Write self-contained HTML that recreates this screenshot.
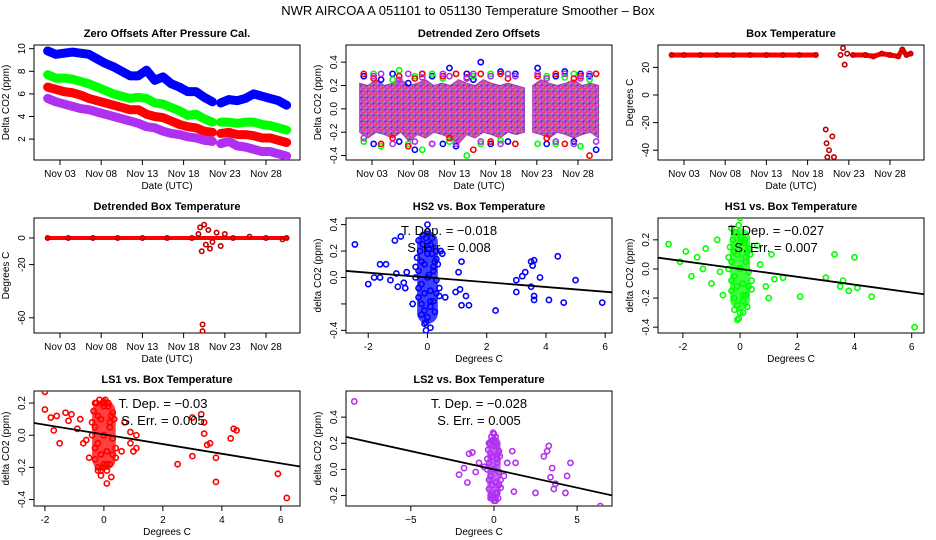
<!DOCTYPE html>
<html><head><meta charset="utf-8"><style>
html,body{margin:0;padding:0;background:#fff;}
svg{display:block;font-family:"Liberation Sans",sans-serif;}
</style></head><body>
<svg id="c" width="936" height="540" viewBox="0 0 936 540">
<text x="468" y="15" font-size="13" text-anchor="middle">NWR   AIRCOA A   051101 to 051130   Temperature Smoother – Box</text>
</svg>
<script>
// ---------- data ----------
const day1=[1.5,2.5,3.5,4.5,5.5,6.5,7.5,8.5,9.5,10.5,11.5,12.5,13.5,14.5,15.5,16.5,17.5,18.5,19.5,20.5,21.5];
const day2=[22.5,23.5,24.5,25.5,26.5,27.5,28.5,29.5,30.5];
const blue1=[9.8,9.5,9.6,9.7,9.6,9.5,9.1,8.7,8.4,8.0,7.6,7.6,8.1,7.2,7.5,6.9,6.6,6.2,6.2,5.7,5.3];
const blue2=[5.2,5.5,5.4,5.6,6.0,5.8,5.6,5.4,5.0];
const green1=[7.7,7.4,7.4,7.3,7.1,6.9,6.6,6.3,6.0,5.8,5.6,5.7,5.6,5.2,5.1,4.8,4.5,4.1,4.2,3.8,3.5];
const green2=[3.5,3.5,3.4,3.5,3.5,3.3,3.2,3.0,2.8];
const red1=[6.6,6.4,6.2,6.1,5.9,5.6,5.4,5.2,5.0,4.8,4.6,4.6,4.2,4.0,3.9,3.6,3.3,3.1,3.0,2.7,2.6];
const red2=[2.5,2.6,2.4,2.4,2.3,2.1,2.1,1.9,1.7];
const purple1=[5.6,5.3,5.1,4.9,4.7,4.6,4.4,4.2,4.0,3.8,3.6,3.4,3.1,3.0,2.7,2.5,2.4,2.2,2.1,1.9,1.8];
const purple2=[1.6,1.8,1.4,1.3,1.1,0.9,0.9,0.7,0.5];
// detrended band
const bandLo1=[-0.2,-0.25,-0.2,-0.22,-0.25,-0.2,-0.28,-0.22,-0.25,-0.2,-0.22,-0.25,-0.3,-0.22,-0.25,-0.2,-0.22,-0.25,-0.2,-0.22,-0.2];
const bandHi1=[0.22,0.2,0.25,0.2,0.22,0.25,0.2,0.22,0.25,0.2,0.22,0.2,0.25,0.22,0.2,0.25,0.22,0.2,0.22,0.2,0.18];
const bandLo2=[-0.2,-0.22,-0.25,-0.2,-0.22,-0.25,-0.22,-0.2,-0.25];
const bandHi2=[0.2,0.25,0.22,0.2,0.22,0.25,0.2,0.22,0.2];
const detDays=[2,3.2,4.1,5.5,6.3,7.4,8.2,9.1,10.3,11.6,12.4,13.2,14.5,15.3,16.2,17.4,18.6,19.5,20.4,23.1,24.2,25.3,26.4,27.5,28.3,29.4,30.2];
const detBlue=[0.28,-0.3,0.25,0.3,-0.28,0.22,-0.35,0.3,0.28,-0.3,0.35,-0.32,0.3,0.25,0.4,-0.3,0.32,-0.28,0.3,0.35,-0.3,0.28,0.32,-0.28,0.3,0.28,-0.35];
const detGreen=[-0.28,0.3,-0.32,0.25,0.33,-0.3,0.28,-0.35,0.3,0.26,-0.28,0.3,-0.4,0.28,-0.3,0.3,-0.27,0.3,-0.3,-0.3,0.28,-0.3,0.27,0.3,-0.32,0.25,0.3];
const detRed=[0.3,0.26,-0.3,-0.25,0.28,-0.32,0.26,0.3,-0.3,0.28,-0.25,0.3,0.27,-0.35,0.3,-0.28,0.3,0.26,-0.3,0.28,-0.25,0.3,-0.3,0.26,0.28,-0.4,0.3];
const detPurple=[-0.25,0.28,0.3,-0.3,0.25,0.3,-0.28,0.27,-0.3,0.3,0.28,-0.3,0.26,0.3,-0.28,0.28,-0.3,0.3,0.28,0.3,0.26,-0.28,0.3,-0.3,0.26,0.3,-0.28];
// box temperature
const boxDays=[1.5,3,5,7,9,11,13,15,17,19,20.2,20.3,20.4,20.5,20.6,21,21.2,21.4,22,22.3,22.5,22.8,23.5,25,26,27,28,29,29.5,30,30.5];
const boxTemp=[29,29,29,29,29,29,29,29,29,29,-25,-35,-45,-50,-40,-30,-45,-50,29,34,22,30,29,29,28,30,29,28,33,29,30];
// detrended box temperature
const dbDays=[1.5,4,7,10,13,16,19,19.8,20.0,20.2,20.3,20.3,20.5,20.7,21.0,21.2,21.5,22,22.5,23,24,26,28,30,30.5];
const dbTemp=[0,0,0,0,0,0,0,3,8,-10,-65,-70,10,-5,6,-8,-3,4,-6,3,0,1,0,-1,0];
// HS2 scatter
const hs2X=[-0.4,-0.3,-0.2,-0.1,0,0.1,0.2,0.3,0.4,-0.35,-0.25,-0.15,-0.05,0.05,0.15,0.25,0.35,-0.3,-0.2,-0.1,0,0.1,0.2,0.3,-0.4,-0.3,-0.2,-0.1,0,0.1,0.2,0.3,0.4,-0.3,-0.15,0,0.15,0.3,-0.2,-0.05,0.1,0.25,-0.1,0,0.1,-0.05,0.05,-2.45,-2,-1.8,-1.6,-1.6,-1.4,-1.25,-1.1,-1.05,-1,-0.9,-0.8,-0.75,-0.7,1.05,1.15,1.1,1.15,0.95,1.3,1.4,2.3,3,3,3.2,3.3,3.5,3.55,3.6,3.5,3.6,3.6,3.8,4.1,4.4,4.6,5,5.9,0.5,0.6,-0.5,0.45];
const hs2Y=[0,0.05,-0.05,0.1,0,-0.1,0.05,-0.02,-0.08,0.15,0.2,0.25,0.3,0.22,0.18,0.12,0.1,-0.15,-0.2,-0.25,-0.3,-0.22,-0.18,-0.12,0.08,-0.08,0.12,-0.12,0.18,-0.18,0.08,0.14,-0.14,0.28,0.32,0.4,0.3,0.2,-0.28,-0.34,-0.38,-0.26,-0.35,0.35,0.25,-0.4,0.02,0.25,-0.05,0,0.1,0,0.1,-0.02,0.28,0.03,-0.07,0.31,-0.04,-0.08,0.04,0.04,0.12,-0.09,-0.21,-0.11,-0.14,-0.21,-0.25,-0.02,-0.11,0.01,0.04,0.12,0.09,0.13,-0.07,-0.14,-0.17,0,-0.17,0.16,-0.19,-0.02,-0.19,0.18,-0.15,-0.2,0.2];
// HS1 scatter
const hs1X=[-0.4,-0.3,-0.2,-0.1,0,0.1,0.2,0.3,0.4,-0.35,-0.25,-0.15,-0.05,0.05,0.15,0.25,0.35,-0.3,-0.2,-0.1,0,0.1,0.2,0.3,-0.4,-0.3,-0.2,-0.1,0,0.1,0.2,0.3,0.4,-0.3,-0.15,0,0.15,-0.2,-0.05,0.1,0.25,-0.1,0,-2.5,-2.1,-1.9,-1.7,-1.5,-1.3,-1.2,-1.0,-0.8,-0.7,0.7,0.9,1.1,1.2,1.0,1.5,2.1,3.0,3.3,3.5,3.6,3.8,4.0,4.1,4.6,6.1,0.6,-0.6];
const hs1Y=[0,0.05,-0.05,0.1,0,-0.1,0.05,-0.02,-0.08,0.15,0.2,0.25,0.3,0.22,0.18,0.12,0.1,-0.15,-0.2,-0.25,-0.3,-0.22,-0.18,-0.12,0.08,-0.08,0.12,-0.12,0.18,-0.18,0.08,0.14,-0.14,0.28,0.25,0.22,0.2,-0.28,-0.34,-0.3,-0.26,-0.35,0.35,0.17,0.05,0.12,-0.05,0.08,0.0,0.14,-0.1,0.2,-0.02,0.03,-0.12,0.1,-0.07,-0.2,-0.06,-0.19,-0.06,0.1,-0.12,-0.08,-0.15,0.08,-0.13,-0.19,-0.4,0.16,-0.18];
// LS1 scatter
const ls1X=[-0.4,-0.3,-0.2,-0.1,0,0.1,0.2,0.3,0.4,-0.35,-0.25,-0.15,-0.05,0.05,0.15,0.25,0.35,-0.3,-0.2,-0.1,0,0.1,0.2,0.3,-0.4,-0.3,-0.2,-0.1,0,0.1,0.2,0.3,0.4,-0.3,-0.15,0,0.15,-0.2,-0.05,0.1,0.25,-0.1,0,-2,-2,-1.8,-1.7,-1.6,-1.5,-1.3,-1.2,-1.1,-0.9,-0.8,-0.7,-0.6,0.6,0.9,0.9,1.1,1.1,1.0,2.5,3.0,3.0,3.3,3.4,3.4,3.5,3.6,3.8,3.8,4.3,4.4,4.5,5.9,6.2,0.7,-0.5];
const ls1Y=[0,0.05,-0.05,0.1,0,-0.1,0.05,-0.02,-0.08,0.15,0.2,0.22,0.2,0.22,0.18,0.12,0.1,-0.15,-0.2,-0.22,-0.18,-0.22,-0.18,-0.12,0.08,-0.08,0.12,-0.12,0.18,-0.18,0.08,0.14,-0.14,0.2,0.22,0.2,0.2,-0.22,-0.2,-0.3,-0.26,-0.25,0.21,0.27,0.16,0.11,0.03,0.12,-0.05,0.14,0.09,0.13,0.04,0.1,-0.05,-0.03,-0.1,0.02,-0.05,0,-0.08,-0.1,-0.18,0.11,-0.13,0.13,0.08,0.01,-0.06,-0.05,-0.14,-0.29,-0.02,0.04,0.03,-0.24,-0.39,0.08,-0.14];
// LS2 scatter
const ls2X=[-0.4,-0.3,-0.2,-0.1,0,0.1,0.2,0.3,0.4,-0.35,-0.25,-0.15,-0.05,0.05,0.15,0.25,0.35,-0.3,-0.2,-0.1,0,0.1,0.2,0.3,-0.4,-0.3,-0.2,-0.1,0,0.1,0.2,0.3,0.4,-0.3,-0.15,0,0.15,-0.2,-0.05,0.1,0.25,-0.1,0.1,-8.4,-2.1,-1.8,-1.6,-1.5,-1.3,-1.1,-0.9,0.8,1.1,1.2,1.3,2.5,3.0,3.2,3.3,3.4,3.5,3.6,3.7,4.3,4.4,4.6,6.4,0.6,-0.6];
const ls2Y=[0,0.05,-0.05,0.1,0,-0.1,0.05,-0.02,-0.08,0.15,0.2,0.25,0.28,0.22,0.18,0.12,0.1,-0.15,-0.2,-0.22,-0.24,-0.22,-0.18,-0.12,0.08,-0.08,0.12,-0.12,0.18,-0.18,0.08,0.14,-0.14,0.2,0.22,0.27,0.2,-0.22,-0.2,-0.24,-0.22,-0.2,0.25,0.52,-0.04,0.01,-0.1,0.12,0.13,-0.02,0.05,0.05,0.14,-0.17,0.05,-0.18,0.1,0.14,0.18,-0.06,0.01,-0.15,-0.11,-0.18,-0.05,0.05,-0.28,-0.05,0.02];
const fits=[{s:-0.018,b:0.0},{s:-0.027,b:0.0},{s:-0.03,b:0.005},{s:-0.028,b:0.0}];
// dense cluster extents (x half-width, y low, y high) per scatter panel
const coreHS2=[0.35,-0.35,0.35];
const coreHS1=[0.35,-0.28,0.28];
const coreLS1=[0.4,-0.22,0.22];
const coreLS2=[0.4,-0.22,0.25];

// ---------- drawing ----------
const svg=document.getElementById('c');
const NS='http://www.w3.org/2000/svg';
function mk(tag,attrs,parent){const e=document.createElementNS(NS,tag);for(const k in attrs)e.setAttribute(k,attrs[k]);(parent||svg).appendChild(e);return e;}
function txt(s,attrs,parent){const e=mk('text',attrs,parent);e.textContent=s;return e;}

const defs=mk('defs',{});
const pat=mk('pattern',{id:'hatch',width:6,height:6,patternUnits:'userSpaceOnUse'},defs);
mk('circle',{cx:3,cy:3,r:2,fill:'none',stroke:'#ff2020','stroke-width':0.8},pat);
mk('circle',{cx:0,cy:0,r:2,fill:'none',stroke:'#2020ff','stroke-width':0.8},pat);
mk('circle',{cx:6,cy:0,r:2,fill:'none',stroke:'#20c020','stroke-width':0.8},pat);

function panel(o){
  const g=mk('g',{});
  
  
  const sx=v=>o.L+(v-o.x0)/(o.x1-o.x0)*(o.R-o.L);
  const sy=v=>o.B-(v-o.y0)/(o.y1-o.y0)*(o.B-o.T);
  o.sx=sx;o.sy=sy;o.g=g;
  const t=txt(o.title,{x:(o.L+o.R)/2,y:o.T-8,'font-size':11,'font-weight':'bold','text-anchor':'middle'},g);
  
  
  const r=mk('rect',{x:o.L,y:o.T,width:o.R-o.L,height:o.B-o.T,fill:'none',stroke:'#000','stroke-width':1},g);
  
  
  o.xt.forEach((v,i)=>{const x=sx(v);mk('line',{x1:x,x2:x,y1:o.B,y2:o.B+5,stroke:'#000'},g);
    const l=txt(o.xl[i],{x:x,y:o.B+17,'font-size':10,'text-anchor':'middle'},g);
    
    });
  o.yt.forEach((v,i)=>{const y=sy(v);mk('line',{x1:o.L,x2:o.L-5,y1:y,y2:y,stroke:'#000'},g);
    const l=txt(o.yl[i],{x:o.L-9,y:y,'font-size':10,'text-anchor':'middle',transform:`rotate(-90 ${o.L-9} ${y})`},g);
    
    });
  const xa=txt(o.xlab,{x:(o.L+o.R)/2,y:o.B+29,'font-size':10,'text-anchor':'middle'},g);
  
  
  const yx=o.L-25,yy=(o.T+o.B)/2;
  const ya=txt(o.ylab,{x:yx,y:yy,'font-size':10,'text-anchor':'middle',transform:`rotate(-90 ${yx} ${yy})`},g);
  
  
  const cp=mk('clipPath',{id:'cp'+o.name},g);
  mk('rect',{x:o.L,y:o.T,width:o.R-o.L,height:o.B-o.T},cp);
  o.pg=mk('g',{'clip-path':`url(#cp${o.name})`},g);
  return o;
}
function dayX(){const x0=3-26/8.24;return {x0:x0,x1:x0+266/8.24};}
const dTicks=[3,8,13,18,23,28],dLabs=['Nov 03','Nov 08','Nov 13','Nov 18','Nov 23','Nov 28'];
const cols=[34,346,658],W=266,rows=[[45,160],[218,333],[391,506]];

function line(o,xs,ys,col,w,name){
  const p=mk('polyline',{points:xs.map((x,i)=>o.sx(x)+','+o.sy(ys[i])).join(' '),fill:'none',stroke:col,'stroke-width':w,'stroke-linejoin':'round','stroke-linecap':'round'},o.pg);
  
  
}
function pts(o,xs,ys,col,name,r){
  xs.forEach((x,i)=>{const c=mk('circle',{cx:o.sx(x),cy:o.sy(ys[i]),r:r||2.6,fill:'none',stroke:col,'stroke-width':1.6},o.pg);
    
    });
}

// Panel 1
let dx=dayX();
let p1=panel({name:'zero-offsets-panel',title:'Zero Offsets After Pressure Cal.',L:cols[0],R:cols[0]+W,T:rows[0][0],B:rows[0][1],x0:dx.x0,x1:dx.x1,y0:10-(160-48.7)/11.3,y1:10+(48.7-45)/11.3,
 xt:dTicks,xl:dLabs,yt:[2,4,6,8,10],yl:['2','4','6','8','10'],xlab:'Date (UTC)',ylab:'Delta CO2 (ppm)'});
[[blue1,blue2,'#0000ff','blue'],[green1,green2,'#00ff00','green'],[red1,red2,'#ff0000','red'],[purple1,purple2,'#b030f0','purple']].forEach(s=>{
  line(p1,day1,s[0],s[2],9,'offset-line-'+s[3]);line(p1,day2,s[1],s[2],9,'offset-line-'+s[3]);});

// Panel 2 detrended
let p2=panel({name:'detrended-offsets-panel',title:'Detrended Zero Offsets',L:cols[1],R:cols[1]+W,T:rows[0][0],B:rows[0][1],x0:dx.x0,x1:dx.x1,y0:-0.438,y1:0.547,
 xt:dTicks,xl:dLabs,yt:[-0.4,-0.2,0,0.2,0.4],yl:['-0.4','-0.2','0.0','0.2','0.4'],xlab:'Date (UTC)',ylab:'Delta CO2 (ppm)'});
[[day1,bandLo1,bandHi1],[day2,bandLo2,bandHi2]].forEach(b=>{
  const up=b[0].map((d,i)=>p2.sx(d)+','+p2.sy(b[2][i]));
  const dn=b[0].map((d,i)=>p2.sx(d)+','+p2.sy(b[1][i])).reverse();
  const pg=mk('polygon',{points:up.concat(dn).join(' '),fill:'#c040e0',stroke:'#8020c0','stroke-width':1,opacity:0.85},p2.pg);
  
  
  mk('polygon',{points:up.concat(dn).join(' '),fill:'url(#hatch)',stroke:'none'},p2.pg);
});
pts(p2,detDays,detBlue,'#0000ff','detrended-point-blue');
pts(p2,detDays,detGreen,'#00ff00','detrended-point-green');
pts(p2,detDays,detRed,'#ff0000','detrended-point-red');
pts(p2,detDays,detPurple,'#b030f0','detrended-point-purple');

// Panel 3 box temperature
let p3=panel({name:'box-temperature-panel',title:'Box Temperature',L:cols[2],R:cols[2]+W,T:rows[0][0],B:rows[0][1],x0:dx.x0,x1:dx.x1,y0:-(160-95)/1.38,y1:(95-45)/1.38,
 xt:dTicks,xl:dLabs,yt:[-40,-20,0,20],yl:['-40','-20','0','20'],xlab:'Date (UTC)',ylab:'Degrees C'});
line(p3,boxDays.slice(0,10),boxTemp.slice(0,10),'#ff0000',5,'box-temp-line');
line(p3,boxDays.slice(22),boxTemp.slice(22),'#ff0000',5,'box-temp-line');
pts(p3,boxDays,boxTemp,'#c00000','box-temp-point',2.2);

// Panel 4 detrended box temperature
let p4=panel({name:'detrended-box-temp-panel',title:'Detrended Box Temperature',L:cols[0],R:cols[0]+W,T:rows[1][0],B:rows[1][1],x0:dx.x0,x1:dx.x1,y0:-(333-238)/1.33,y1:(238-218)/1.33,
 xt:dTicks,xl:dLabs,yt:[-60,-20,0],yl:['-60','-20','0'],xlab:'Date (UTC)',ylab:'Degrees C'});
line(p4,[1.5,30.5],[0,0],'#ff0000',4,'detrended-box-line');
pts(p4,dbDays,dbTemp,'#c00000','detrended-box-point',2.2);

// scatter panels
function scatter(cfg,xs,ys,col,fit,td,se,core){
  const o=panel(cfg);
  const ex=o.sx(core[0])-o.sx(0);
  const e=mk('rect',{x:o.sx(-core[0]),y:o.sy(core[2]),width:2*ex,height:o.sy(core[1])-o.sy(core[2]),rx:ex,ry:ex,fill:col,opacity:0.75},o.pg);
  
  
  pts(o,xs,ys,col,cfg.name.replace('-panel','')+'-point');
  line(o,[cfg.x0,cfg.x1],[fit.b+fit.s*cfg.x0,fit.b+fit.s*cfg.x1],'#000',1.8,'regression-line');
  const cx=(cfg.L+cfg.R)/2+cfg.toff;
  const a=txt('T. Dep. =  '+td,{x:cx,y:cfg.T+17,'font-size':13,'text-anchor':'middle'},o.g);
  
  
  const b=txt('S. Err. =  '+se,{x:cx,y:cfg.T+34,'font-size':13,'text-anchor':'middle'},o.g);
  
  
}
scatter({name:'hs2-panel',title:'HS2 vs. Box Temperature',L:cols[1],R:cols[1]+W,T:rows[1][0],B:rows[1][1],x0:-2.75,x1:6.23,y0:-0.42,y1:0.45,
 xt:[-2,0,2,4,6],xl:['-2','0','2','4','6'],yt:[-0.4,-0.2,0,0.2,0.4],yl:['-0.4','','0.0','0.2','0.4'],xlab:'Degrees C',ylab:'delta CO2 (ppm)',toff:-30},hs2X,hs2Y,'#0000ff',fits[0],'−0.018','0.008',coreHS2);
scatter({name:'hs1-panel',title:'HS1 vs. Box Temperature',L:cols[2],R:cols[2]+W,T:rows[1][0],B:rows[1][1],x0:-2.87,x1:6.43,y0:-0.44,y1:0.35,
 xt:[-2,0,2,4,6],xl:['-2','0','2','4','6'],yt:[-0.4,-0.2,0,0.2],yl:['-0.4','-0.2','0.0','0.2'],xlab:'Degrees C',ylab:'delta CO2 (ppm)',toff:-15},hs1X,hs1Y,'#00ff00',fits[1],'−0.027','0.007',coreHS1);
scatter({name:'ls1-panel',title:'LS1 vs. Box Temperature',L:cols[0],R:cols[0]+W,T:rows[2][0],B:rows[2][1],x0:-2.37,x1:6.65,y0:-0.44,y1:0.275,
 xt:[-2,0,2,4,6],xl:['-2','0','2','4','6'],yt:[-0.4,-0.2,0,0.2],yl:['-0.4','-0.2','0.0','0.2'],xlab:'Degrees C',ylab:'delta CO2 (ppm)',toff:-4},ls1X,ls1Y,'#ff0000',fits[2],'−0.03','0.005',coreLS1);
scatter({name:'ls2-panel',title:'LS2 vs. Box Temperature',L:cols[1],R:cols[1]+W,T:rows[2][0],B:rows[2][1],x0:-8.9,x1:7.1,y0:-0.28,y1:0.6,
 xt:[-5,0,5],xl:['−5','0','5'],yt:[-0.2,0,0.2,0.4],yl:['-0.2','0.0','0.2','0.4'],xlab:'Degrees C',ylab:'delta CO2 (ppm)',toff:0},ls2X,ls2Y,'#b030f0',fits[3],'−0.028','0.005',coreLS2);
</script>
</body></html>
